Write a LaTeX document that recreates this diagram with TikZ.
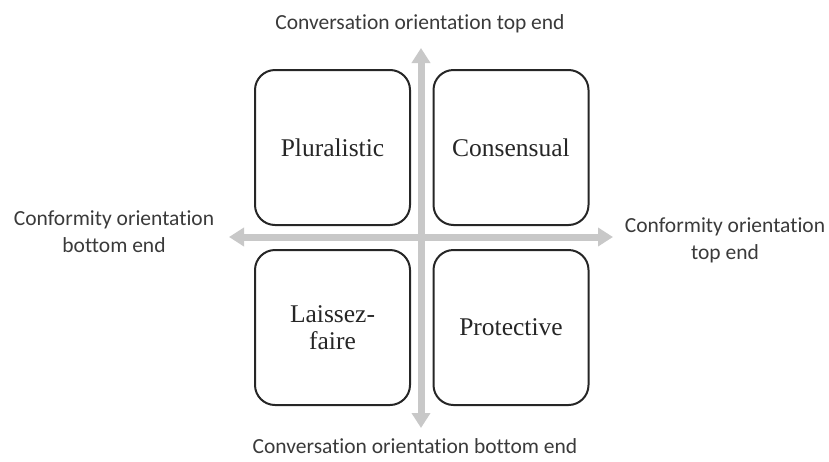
\documentclass[tikz,border=0pt]{standalone}
\usepackage{fontspec}
\setmainfont{Liberation Serif}
\newfontfamily\axisfont[Ligatures=NoCommon]{Carlito}
\usetikzlibrary{arrows.meta}
\definecolor{axisgray}{HTML}{C8C8C8}
\definecolor{boxline}{HTML}{262626}
\definecolor{labelgray}{HTML}{3A3A3A}
\begin{document}
\begin{tikzpicture}[
x=1pt, y=-1pt,
quad/.style = {draw=boxline, line width=2pt, rounded corners=20pt, minimum width=155pt, minimum height=155pt, inner sep=0pt, align=center, font=\fontsize{25.5}{27}\selectfont, text=black!85},
axis/.style = {draw=axisgray, line width=7pt, -{Triangle[width=18pt,length=15pt]}},
axislabel/.style = {font=\axisfont\fontsize{21.5}{27}\selectfont, text=labelgray, align=center, inner sep=0pt}
                        ]
\useasboundingbox (0,0) rectangle (829,461);

% axes
\coordinate (n) at (421,48);
\coordinate (s) at (421,428);
\coordinate (w) at (229,237);
\coordinate (e) at (613,237);
\coordinate (c) at (421,237);
\draw[axis] (c) -- (n);
\draw[axis] (c) -- (s);
\draw[axis] (c) -- (w);
\draw[axis] (c) -- (e);

% quadrants
\node[quad] (plural) at (332.5,147.5) {Pluralistic};
\node[quad] (consens) at (511,147.5) {Consensual};
\node[quad] (laissez) at (332.5,327.5) {Laissez-\\faire};
\node[quad] (protect) at (511,327.5) {Protective};

% axis labels
\node[axislabel] (convtop) at (420,24) {Conversation orientation top end};
\node[axislabel] (convbot) at (415,446) {Conversation orientation bottom end};
\node[axislabel] (confbot) at (114,232) {Conformity orientation\\bottom end};
\node[axislabel] (conftop) at (725,240) {Conformity orientation\\top end};

\end{tikzpicture}
\end{document}
